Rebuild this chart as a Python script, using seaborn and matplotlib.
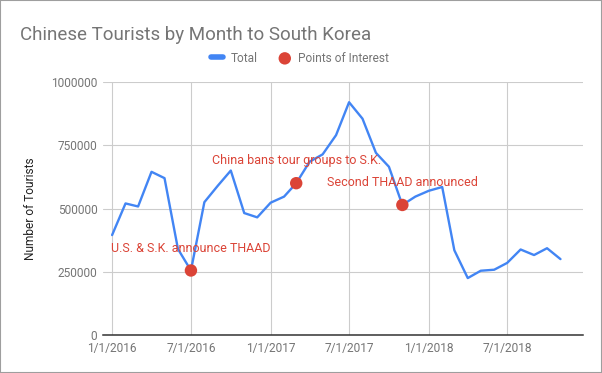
import pandas as pd
import numpy as np
import matplotlib
matplotlib.use('Agg')
import matplotlib.pyplot as plt
import seaborn as sns
from matplotlib.patches import Rectangle

# данные
months = ['2016-01', '2016-02', '2016-03', '2016-04', '2016-05', '2016-06', '2016-07',
          '2016-08', '2016-09', '2016-10', '2016-11', '2016-12', '2017-01', '2017-02',
          '2017-03', '2017-04', '2017-05', '2017-06', '2017-07', '2017-08', '2017-09',
          '2017-10', '2017-11', '2017-12', '2018-01', '2018-02', '2018-03', '2018-04',
          '2018-05', '2018-06', '2018-07', '2018-08', '2018-09', '2018-10', '2018-11']
total = [395000, 520000, 508000, 645000, 620000, 340000, 255000,
         525000, 590000, 650000, 482000, 465000, 523000, 547000,
         600000, 685000, 714000, 790000, 920000, 855000, 720000,
         665000, 514000, 547000, 570000, 585000, 335000, 225000,
         254000, 258000, 285000, 338000, 316000, 343000, 300000]

poi_months = ['2016-07', '2017-03', '2017-11']
poi_values = [255000, 600000, 514000]
poi_labels = ['U.S. & S.K. announce THAAD', 'China bans tour groups to S.K.',
              'Second THAAD announced']

xtick_dates = ['2016-01-01', '2016-07-01', '2017-01-01', '2017-07-01', '2018-01-01', '2018-07-01']
xtick_labels = ['1/1/2016', '7/1/2016', '1/1/2017', '7/1/2017', '1/1/2018', '7/1/2018']
ytick_values = [0, 250000, 500000, 750000, 1000000]

df = pd.DataFrame({'Month': pd.to_datetime(months), 'Total': total})
poi = pd.DataFrame({'Month': pd.to_datetime(poi_months), 'Value': poi_values})

BLUE = '#4285f4'
RED = '#db4437'
GRAY = '#757575'

sns.set_style('white')
plt.rcParams['font.family'] = ['Roboto', 'DejaVu Sans']

fig = plt.figure(figsize=(6.02, 3.73), dpi=100)
ax = fig.add_axes([103 / 602, 1 - 335 / 373, 480 / 602, 253 / 373])

sns.lineplot(data=df, x='Month', y='Total', ax=ax, color=BLUE, linewidth=1.7,
             label='Total', zorder=3)
sns.scatterplot(data=poi, x='Month', y='Value', ax=ax, color=RED, s=80,
                edgecolor='none', label='Points of Interest', zorder=4)
ax.lines[0].set_solid_joinstyle('round')

for d, v, t in zip(poi['Month'], poi['Value'], poi_labels):
    ax.annotate(t, xy=(d, v), xytext=(0, 16), textcoords='offset points',
                ha='center', va='center', color=RED, fontsize=9, zorder=5)

ax.set_xlim(pd.Timestamp('2015-12-11'), pd.Timestamp('2018-12-23'))
ax.set_ylim(0, 1000000)
ax.set_xticks(pd.to_datetime(xtick_dates))
ax.set_xticklabels(xtick_labels)
ax.set_yticks(ytick_values)
ax.set_yticklabels([str(v) for v in ytick_values])
ax.tick_params(axis='both', length=0, labelsize=8.6, labelcolor=GRAY)
ax.tick_params(axis='x', pad=5)
ax.tick_params(axis='y', pad=4)
ax.grid(True, color='#cccccc', linewidth=0.8)
ax.set_axisbelow(True)
for s in ['top', 'right', 'left']:
    ax.spines[s].set_visible(False)
ax.spines['bottom'].set_color('#333333')
ax.spines['bottom'].set_linewidth(1.1)
ax.set_xlabel('')
ax.set_ylabel('Number of Tourists', fontsize=8.6, color='#222222', labelpad=10)

h, l = ax.get_legend_handles_labels()
ax.get_legend().remove()
leg = fig.legend(h, l, loc='center', bbox_to_anchor=(300 / 602, 1 - 58 / 373), ncol=2,
                 frameon=False, fontsize=8.6, labelcolor=GRAY, handlelength=1.0,
                 handletextpad=0.6, columnspacing=1.8, markerscale=1.0)
leg.get_lines()[0].set_linewidth(4)

fig.text(20 / 602, 1 - 40 / 373, 'Chinese Tourists by Month to South Korea',
         fontsize=13.5, color=GRAY, va='baseline', ha='left')

fig.patches.append(Rectangle((0, 0), 1, 1, transform=fig.transFigure, fill=False,
                             edgecolor='#9e9e9e', linewidth=1.5))

fig.savefig('out.png', dpi=100)
